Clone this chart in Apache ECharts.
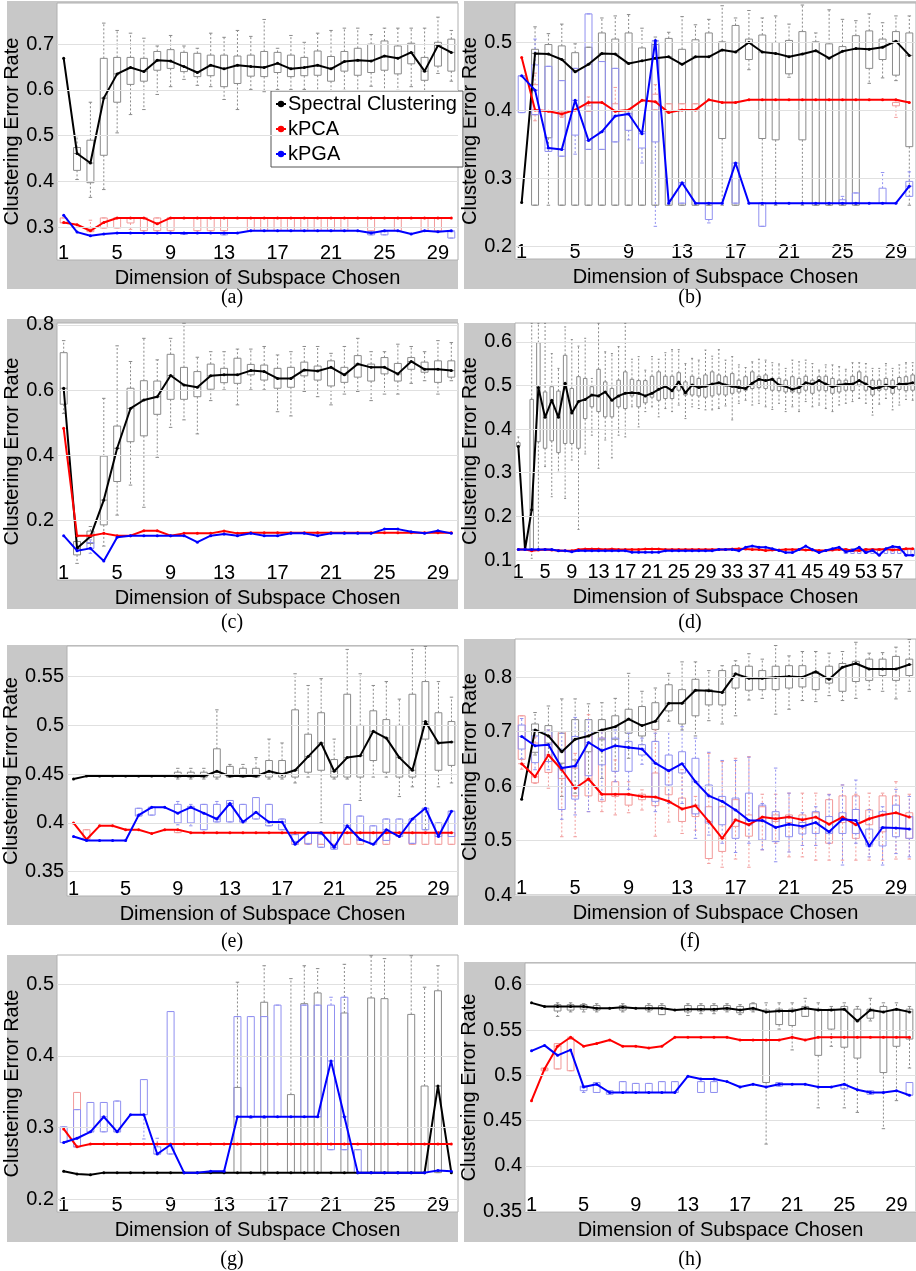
<!DOCTYPE html>
<html><head><meta charset="utf-8">
<script src="https://cdn.jsdelivr.net/npm/echarts@6/dist/echarts.min.js"></script>
<style>html,body{margin:0;padding:0;background:#fff}#c{width:916px;height:1271px}</style>
</head><body><div id="c"></div>
<script>
// ---------------- DATA ----------------
const SERIES_NAMES = ['Spectral Clustering', 'kPCA', 'kPGA'];
const X_TITLE = 'Dimension of Subspace Chosen';
const Y_TITLE = 'Clustering Error Rate';
const CAPTIONS = ['(a)', '(b)', '(c)', '(d)', '(e)', '(f)', '(g)', '(h)'];
const DIMS30 = Array.from({length: 30}, (_, i) => String(i + 1));
const DIMS60 = Array.from({length: 60}, (_, i) => String(i + 1));

// y tick labels
const A_YT = [0.3, 0.4, 0.5, 0.6, 0.7];
const B_YT = [0.2, 0.3, 0.4, 0.5];
const C_YT = [0.2, 0.4, 0.6, 0.8];
const D_YT = [0.1, 0.2, 0.3, 0.4, 0.5, 0.6];
const E_YT = [0.35, 0.4, 0.45, 0.5, 0.55];
const F_YT = [0.4, 0.5, 0.6, 0.7, 0.8];
const G_YT = [0.2, 0.3, 0.4, 0.5];
const H_YT = [0.35, 0.4, 0.45, 0.5, 0.55, 0.6];

// lines (medians); boxes: [dimension, low whisker, q1, q3, high whisker]
// (a)
const A_SC = [0.669,0.461,0.440,0.582,0.635,0.649,0.640,0.665,0.663,0.651,0.638,0.654,0.646,0.654,0.651,0.649,0.658,0.646,0.649,0.654,0.646,0.662,0.665,0.663,0.674,0.669,0.682,0.641,0.697,0.682];
const A_SC_BOX = [[2,0.404,0.424,0.474,0.500],[3,0.365,0.397,0.490,0.573],[4,0.382,0.457,0.669,0.746],[5,0.506,0.573,0.671,0.730],[6,0.546,0.612,0.671,0.724],[7,0.557,0.619,0.669,0.713],[8,0.590,0.643,0.684,0.696],[9,0.607,0.647,0.688,0.719],[10,0.623,0.640,0.682,0.696],[11,0.610,0.629,0.680,0.691],[12,0.607,0.631,0.676,0.724],[13,0.579,0.607,0.676,0.715],[14,0.557,0.614,0.674,0.730],[15,0.601,0.630,0.676,0.717],[16,0.596,0.629,0.684,0.754],[17,0.601,0.638,0.682,0.691],[18,0.601,0.629,0.676,0.719],[19,0.601,0.631,0.671,0.704],[20,0.593,0.632,0.685,0.724],[21,0.596,0.619,0.673,0.730],[22,0.599,0.641,0.684,0.735],[23,0.593,0.632,0.691,0.735],[24,0.608,0.638,0.700,0.721],[25,0.593,0.643,0.707,0.735],[26,0.599,0.635,0.696,0.735],[27,0.607,0.657,0.702,0.735],[28,0.596,0.621,0.671,0.735],[29,0.636,0.652,0.704,0.759],[30,0.619,0.641,0.711,0.730]];
const A_PCA = [0.310,0.305,0.292,0.310,0.320,0.320,0.320,0.307,0.320,0.320,0.320,0.320,0.320,0.320,0.320,0.320,0.320,0.320,0.320,0.320,0.320,0.320,0.320,0.320,0.320,0.320,0.320,0.320,0.320,0.320];
const A_PCA_BOX = [[1,0.309,0.309,0.320,0.320],[3,0.290,0.290,0.298,0.315],[4,0.298,0.298,0.320,0.320],[5,0.298,0.298,0.320,0.320],[6,0.295,0.309,0.320,0.320],[7,0.292,0.292,0.320,0.320],[8,0.292,0.292,0.320,0.320],[9,0.292,0.292,0.320,0.320],[11,0.292,0.292,0.320,0.320],[12,0.292,0.292,0.320,0.320],[13,0.292,0.292,0.320,0.320],[15,0.292,0.292,0.320,0.320],[16,0.292,0.292,0.320,0.320],[17,0.292,0.292,0.320,0.320],[18,0.292,0.292,0.320,0.320],[19,0.292,0.292,0.320,0.320],[20,0.292,0.292,0.320,0.320],[21,0.292,0.292,0.320,0.320],[22,0.292,0.292,0.320,0.320],[24,0.292,0.292,0.320,0.320],[26,0.292,0.292,0.320,0.320],[28,0.292,0.292,0.320,0.320],[29,0.292,0.292,0.320,0.320]];
const A_PGA = [0.326,0.289,0.281,0.285,0.287,0.287,0.287,0.287,0.287,0.287,0.287,0.287,0.287,0.287,0.292,0.292,0.292,0.292,0.292,0.292,0.292,0.292,0.292,0.287,0.292,0.292,0.285,0.292,0.290,0.292];
const A_PGA_BOX = [[10,0.284,0.284,0.287,0.287],[13,0.283,0.283,0.287,0.287],[24,0.283,0.283,0.290,0.290],[25,0.283,0.283,0.290,0.290],[30,0.276,0.276,0.290,0.290]];

// (b)
const B_SC = [0.265,0.484,0.483,0.475,0.457,0.468,0.484,0.483,0.469,0.473,0.477,0.479,0.468,0.479,0.479,0.489,0.486,0.500,0.486,0.484,0.479,0.483,0.488,0.477,0.487,0.491,0.490,0.493,0.502,0.481];
const B_SC_BOX = [[2,0.261,0.261,0.490,0.523],[3,0.261,0.360,0.497,0.513],[4,0.261,0.261,0.495,0.527],[5,0.261,0.261,0.485,0.498],[6,0.261,0.261,0.493,0.493],[7,0.261,0.261,0.514,0.536],[8,0.261,0.261,0.505,0.539],[9,0.261,0.261,0.514,0.541],[10,0.261,0.261,0.492,0.521],[11,0.261,0.261,0.497,0.508],[12,0.261,0.261,0.506,0.515],[13,0.261,0.261,0.490,0.538],[14,0.261,0.261,0.504,0.526],[15,0.261,0.261,0.514,0.534],[16,0.261,0.359,0.501,0.554],[17,0.261,0.261,0.525,0.536],[18,0.460,0.475,0.505,0.547],[19,0.261,0.359,0.511,0.536],[20,0.261,0.357,0.500,0.539],[21,0.449,0.454,0.503,0.527],[22,0.261,0.357,0.516,0.555],[23,0.261,0.261,0.501,0.514],[24,0.261,0.261,0.498,0.548],[25,0.261,0.261,0.494,0.534],[26,0.261,0.261,0.510,0.532],[27,0.440,0.462,0.517,0.542],[28,0.448,0.475,0.505,0.529],[29,0.444,0.452,0.516,0.539],[30,0.261,0.347,0.514,0.539]];
const B_PCA = [0.478,0.401,0.399,0.395,0.401,0.412,0.412,0.399,0.401,0.415,0.413,0.397,0.401,0.401,0.416,0.412,0.412,0.416,0.416,0.416,0.416,0.416,0.416,0.416,0.416,0.416,0.416,0.416,0.416,0.412];
const B_PCA_BOX = [[2,0.385,0.394,0.438,0.455],[4,0.390,0.392,0.398,0.400],[6,0.399,0.399,0.407,0.420],[8,0.399,0.399,0.410,0.434],[11,0.401,0.401,0.424,0.438],[12,0.397,0.397,0.410,0.410],[13,0.401,0.401,0.410,0.410],[14,0.401,0.401,0.410,0.410],[29,0.390,0.407,0.412,0.412]];
const B_PGA = [0.451,0.430,0.345,0.343,0.415,0.356,0.369,0.392,0.395,0.366,0.503,0.264,0.294,0.264,0.264,0.264,0.323,0.264,0.264,0.264,0.264,0.264,0.264,0.264,0.264,0.264,0.264,0.264,0.264,0.289];
const B_PGA_BOX = [[1,0.397,0.397,0.451,0.451],[2,0.394,0.394,0.467,0.505],[3,0.340,0.340,0.465,0.465],[4,0.333,0.333,0.444,0.444],[5,0.336,0.364,0.462,0.462],[6,0.343,0.343,0.542,0.542],[7,0.343,0.343,0.472,0.472],[8,0.354,0.354,0.462,0.462],[9,0.357,0.371,0.396,0.396],[10,0.323,0.345,0.369,0.369],[11,0.230,0.354,0.501,0.501],[13,0.264,0.264,0.294,0.294],[15,0.235,0.240,0.264,0.264],[17,0.264,0.264,0.323,0.323],[19,0.230,0.230,0.264,0.264],[25,0.264,0.264,0.269,0.274],[26,0.264,0.264,0.279,0.279],[28,0.264,0.264,0.286,0.309],[30,0.274,0.274,0.296,0.310]];

// (c)
const C_SC = [0.606,0.115,0.151,0.263,0.422,0.544,0.570,0.580,0.645,0.616,0.609,0.644,0.647,0.647,0.660,0.657,0.636,0.636,0.662,0.659,0.670,0.647,0.680,0.670,0.670,0.650,0.688,0.664,0.664,0.660];
const C_SC_BOX = [[1,0.529,0.557,0.715,0.752],[2,0.069,0.095,0.136,0.151],[3,0.115,0.130,0.168,0.182],[4,0.122,0.187,0.398,0.575],[5,0.217,0.320,0.490,0.736],[6,0.309,0.442,0.606,0.688],[7,0.241,0.460,0.629,0.759],[8,0.394,0.526,0.628,0.693],[9,0.486,0.572,0.710,0.759],[10,0.509,0.572,0.670,0.805],[11,0.466,0.580,0.657,0.701],[12,0.568,0.603,0.680,0.718],[13,0.601,0.623,0.667,0.718],[14,0.555,0.621,0.698,0.726],[15,0.601,0.647,0.679,0.726],[16,0.601,0.631,0.677,0.734],[17,0.534,0.606,0.667,0.708],[18,0.521,0.609,0.670,0.718],[19,0.596,0.644,0.686,0.734],[20,0.580,0.631,0.674,0.734],[21,0.555,0.613,0.690,0.713],[22,0.588,0.624,0.670,0.734],[23,0.596,0.640,0.706,0.759],[24,0.568,0.628,0.680,0.718],[25,0.588,0.650,0.700,0.718],[26,0.588,0.628,0.682,0.741],[27,0.621,0.664,0.700,0.734],[28,0.629,0.655,0.686,0.718],[29,0.588,0.624,0.690,0.752],[30,0.629,0.640,0.690,0.746]];
const C_PCA = [0.483,0.154,0.154,0.161,0.154,0.154,0.169,0.169,0.154,0.161,0.161,0.161,0.168,0.161,0.163,0.163,0.163,0.163,0.163,0.163,0.163,0.163,0.163,0.163,0.163,0.163,0.163,0.163,0.163,0.163];
const C_PCA_BOX = [];
const C_PGA = [0.154,0.108,0.115,0.076,0.149,0.154,0.154,0.154,0.154,0.154,0.134,0.154,0.159,0.154,0.161,0.154,0.154,0.161,0.161,0.154,0.161,0.161,0.161,0.161,0.174,0.174,0.166,0.161,0.169,0.161];
const C_PGA_BOX = [[3,0.100,0.115,0.133,0.141]];

// (d)
const D_SC = [0.360,0.124,0.215,0.495,0.427,0.466,0.427,0.505,0.437,0.463,0.468,0.478,0.476,0.485,0.466,0.476,0.482,0.483,0.482,0.476,0.482,0.491,0.498,0.488,0.508,0.483,0.501,0.495,0.498,0.503,0.506,0.501,0.498,0.495,0.493,0.505,0.514,0.511,0.514,0.501,0.498,0.491,0.495,0.506,0.503,0.511,0.503,0.497,0.501,0.503,0.503,0.511,0.503,0.493,0.495,0.501,0.495,0.503,0.503,0.506];
const D_SC_BOX = [[1,0.361,0.361,0.369,0.382],[3,0.104,0.123,0.468,0.642],[4,0.123,0.371,0.598,0.642],[5,0.314,0.356,0.485,0.642],[6,0.245,0.373,0.497,0.573],[7,0.301,0.346,0.487,0.539],[8,0.241,0.367,0.569,0.634],[9,0.329,0.367,0.493,0.605],[10,0.170,0.356,0.520,0.590],[11,0.343,0.424,0.516,0.608],[12,0.386,0.451,0.497,0.516],[13,0.310,0.440,0.537,0.642],[14,0.375,0.428,0.508,0.577],[15,0.334,0.428,0.493,0.573],[16,0.386,0.451,0.512,0.589],[17,0.382,0.447,0.531,0.642],[18,0.451,0.476,0.514,0.560],[19,0.405,0.451,0.511,0.566],[20,0.440,0.460,0.511,0.535],[21,0.451,0.473,0.521,0.566],[22,0.428,0.466,0.531,0.560],[23,0.447,0.470,0.521,0.575],[24,0.440,0.470,0.521,0.582],[25,0.455,0.489,0.529,0.582],[26,0.424,0.478,0.508,0.550],[27,0.451,0.478,0.521,0.562],[28,0.447,0.476,0.516,0.558],[29,0.444,0.473,0.524,0.581],[30,0.444,0.476,0.531,0.567],[31,0.447,0.480,0.524,0.582],[32,0.453,0.478,0.520,0.558],[33,0.421,0.482,0.527,0.566],[34,0.459,0.485,0.512,0.547],[35,0.466,0.489,0.520,0.541],[36,0.455,0.493,0.531,0.554],[37,0.459,0.495,0.521,0.560],[38,0.451,0.493,0.524,0.558],[39,0.445,0.489,0.516,0.552],[40,0.459,0.488,0.516,0.549],[41,0.440,0.485,0.512,0.539],[42,0.451,0.485,0.520,0.558],[43,0.440,0.483,0.516,0.554],[44,0.463,0.489,0.521,0.558],[45,0.451,0.482,0.512,0.550],[46,0.455,0.489,0.520,0.535],[47,0.447,0.488,0.521,0.547],[48,0.440,0.482,0.516,0.547],[49,0.455,0.485,0.512,0.543],[50,0.459,0.489,0.512,0.537],[51,0.463,0.488,0.521,0.552],[52,0.470,0.501,0.531,0.552],[53,0.459,0.489,0.520,0.550],[54,0.432,0.478,0.512,0.539],[55,0.457,0.489,0.512,0.539],[56,0.470,0.491,0.516,0.550],[57,0.444,0.482,0.512,0.539],[58,0.455,0.491,0.518,0.547],[59,0.468,0.488,0.520,0.552],[60,0.466,0.489,0.524,0.552]];
const D_PCA = [0.124,0.124,0.121,0.123,0.124,0.123,0.122,0.121,0.121,0.124,0.125,0.125,0.125,0.124,0.125,0.124,0.124,0.124,0.124,0.125,0.125,0.125,0.124,0.124,0.124,0.124,0.124,0.124,0.124,0.124,0.124,0.124,0.125,0.126,0.125,0.124,0.124,0.122,0.123,0.123,0.124,0.124,0.124,0.123,0.123,0.122,0.122,0.123,0.124,0.124,0.122,0.122,0.124,0.124,0.124,0.125,0.123,0.124,0.126,0.126];
const D_PCA_BOX = [];
const D_PGA = [0.124,0.124,0.124,0.124,0.124,0.124,0.121,0.121,0.119,0.122,0.121,0.121,0.121,0.121,0.121,0.121,0.121,0.118,0.118,0.118,0.118,0.118,0.121,0.121,0.121,0.121,0.121,0.121,0.121,0.121,0.124,0.124,0.124,0.121,0.129,0.132,0.129,0.129,0.126,0.122,0.117,0.117,0.124,0.132,0.124,0.117,0.122,0.126,0.129,0.119,0.122,0.129,0.117,0.122,0.111,0.126,0.131,0.129,0.111,0.111];
const D_PGA_BOX = [[50,0.115,0.115,0.126,0.126],[51,0.115,0.115,0.126,0.126],[52,0.115,0.115,0.126,0.126],[53,0.115,0.115,0.126,0.126],[54,0.115,0.115,0.126,0.126],[55,0.113,0.113,0.126,0.126],[56,0.115,0.115,0.126,0.126],[57,0.115,0.115,0.128,0.128],[58,0.115,0.115,0.128,0.128],[59,0.111,0.111,0.126,0.126],[60,0.111,0.111,0.126,0.126]];

// (e)
const E_SC = [0.445,0.448,0.448,0.448,0.448,0.448,0.448,0.448,0.448,0.448,0.448,0.453,0.448,0.448,0.448,0.453,0.450,0.454,0.468,0.482,0.453,0.467,0.469,0.494,0.487,0.467,0.454,0.504,0.482,0.483];
const E_SC_BOX = [[9,0.445,0.447,0.452,0.456],[10,0.445,0.447,0.452,0.456],[11,0.445,0.447,0.452,0.456],[12,0.445,0.447,0.476,0.516],[13,0.447,0.447,0.458,0.460],[14,0.447,0.447,0.456,0.460],[15,0.447,0.447,0.456,0.467],[16,0.445,0.447,0.464,0.486],[17,0.445,0.447,0.464,0.482],[18,0.441,0.447,0.516,0.553],[19,0.447,0.452,0.491,0.541],[20,0.400,0.454,0.513,0.548],[21,0.445,0.447,0.465,0.486],[22,0.445,0.447,0.532,0.578],[23,0.423,0.447,0.500,0.553],[24,0.447,0.464,0.515,0.541],[25,0.447,0.452,0.506,0.545],[26,0.427,0.447,0.500,0.527],[27,0.437,0.447,0.532,0.578],[28,0.393,0.486,0.545,0.581],[29,0.437,0.454,0.513,0.545],[30,0.441,0.459,0.504,0.529]];
const E_PCA = [0.400,0.383,0.397,0.397,0.393,0.393,0.389,0.393,0.393,0.390,0.390,0.390,0.390,0.390,0.390,0.390,0.390,0.390,0.390,0.390,0.390,0.390,0.390,0.390,0.390,0.390,0.390,0.390,0.390,0.390];
const E_PCA_BOX = [[2,0.383,0.383,0.393,0.393],[9,0.390,0.390,0.393,0.393],[18,0.378,0.378,0.390,0.390],[19,0.378,0.378,0.390,0.390],[20,0.378,0.378,0.390,0.390],[21,0.378,0.378,0.390,0.390],[22,0.378,0.378,0.390,0.390],[23,0.378,0.378,0.390,0.390],[24,0.378,0.378,0.390,0.390],[25,0.378,0.378,0.390,0.390],[27,0.378,0.378,0.390,0.390],[28,0.378,0.378,0.390,0.390],[29,0.378,0.378,0.390,0.390],[30,0.378,0.378,0.390,0.390]];
const E_PGA = [0.386,0.382,0.382,0.382,0.382,0.408,0.416,0.416,0.410,0.416,0.410,0.404,0.420,0.401,0.411,0.401,0.401,0.378,0.390,0.390,0.375,0.397,0.383,0.378,0.393,0.386,0.404,0.415,0.386,0.412];
const E_PGA_BOX = [[6,0.407,0.407,0.415,0.415],[7,0.408,0.408,0.416,0.416],[9,0.398,0.400,0.419,0.422],[10,0.397,0.400,0.417,0.419],[11,0.393,0.393,0.419,0.419],[12,0.401,0.401,0.419,0.422],[13,0.401,0.401,0.423,0.423],[14,0.401,0.401,0.419,0.419],[15,0.404,0.404,0.426,0.426],[16,0.397,0.397,0.419,0.419],[17,0.393,0.393,0.404,0.404],[18,0.378,0.381,0.388,0.388],[19,0.378,0.379,0.390,0.390],[20,0.375,0.375,0.388,0.388],[21,0.373,0.373,0.390,0.390],[22,0.390,0.390,0.419,0.419],[23,0.382,0.382,0.407,0.407],[24,0.379,0.379,0.397,0.397],[25,0.382,0.382,0.404,0.404],[26,0.386,0.386,0.404,0.404],[27,0.379,0.379,0.404,0.404],[28,0.393,0.393,0.415,0.415],[29,0.386,0.386,0.400,0.400],[30,0.386,0.386,0.412,0.412]];

// (f)
const F_SC = [0.576,0.703,0.692,0.663,0.686,0.692,0.703,0.709,0.723,0.711,0.719,0.752,0.752,0.776,0.775,0.772,0.806,0.798,0.798,0.800,0.801,0.800,0.810,0.796,0.818,0.825,0.815,0.815,0.815,0.823];
const F_SC_BOX = [[2,0.657,0.662,0.714,0.735],[3,0.645,0.679,0.711,0.747],[4,0.581,0.642,0.697,0.760],[5,0.587,0.648,0.722,0.760],[6,0.614,0.663,0.722,0.751],[7,0.614,0.685,0.722,0.753],[8,0.627,0.686,0.729,0.761],[9,0.651,0.697,0.741,0.807],[10,0.676,0.692,0.746,0.774],[11,0.682,0.704,0.753,0.780],[12,0.719,0.738,0.786,0.807],[13,0.703,0.714,0.777,0.828],[14,0.692,0.729,0.796,0.828],[15,0.720,0.749,0.777,0.812],[16,0.714,0.749,0.812,0.821],[17,0.729,0.780,0.821,0.830],[18,0.758,0.776,0.820,0.843],[19,0.761,0.777,0.812,0.833],[20,0.732,0.777,0.820,0.858],[21,0.741,0.780,0.821,0.839],[22,0.757,0.782,0.821,0.847],[23,0.755,0.777,0.807,0.847],[24,0.766,0.789,0.820,0.844],[25,0.757,0.774,0.825,0.847],[26,0.761,0.792,0.829,0.864],[27,0.777,0.794,0.833,0.844],[28,0.774,0.803,0.833,0.845],[29,0.760,0.794,0.838,0.855],[30,0.774,0.803,0.833,0.869]];
const F_PCA = [0.641,0.617,0.657,0.630,0.596,0.613,0.585,0.585,0.585,0.581,0.580,0.572,0.558,0.564,0.535,0.504,0.538,0.529,0.543,0.540,0.543,0.538,0.543,0.530,0.543,0.529,0.540,0.547,0.551,0.543];
const F_PCA_BOX = [[1,0.631,0.649,0.729,0.729],[2,0.605,0.606,0.679,0.690],[3,0.596,0.625,0.692,0.703],[4,0.507,0.614,0.700,0.700],[5,0.507,0.582,0.633,0.660],[6,0.553,0.582,0.692,0.731],[7,0.553,0.572,0.688,0.703],[8,0.547,0.581,0.608,0.648],[9,0.551,0.565,0.584,0.608],[10,0.556,0.575,0.585,0.593],[11,0.508,0.564,0.624,0.703],[12,0.534,0.584,0.599,0.630],[13,0.513,0.535,0.578,0.630],[14,0.519,0.544,0.565,0.581],[15,0.458,0.467,0.562,0.660],[16,0.451,0.480,0.562,0.645],[17,0.466,0.526,0.575,0.651],[18,0.451,0.508,0.547,0.654],[19,0.483,0.535,0.562,0.585],[20,0.495,0.535,0.547,0.585],[21,0.470,0.533,0.547,0.587],[22,0.470,0.523,0.547,0.587],[23,0.464,0.532,0.551,0.587],[24,0.464,0.495,0.575,0.585],[25,0.464,0.533,0.582,0.602],[26,0.464,0.504,0.582,0.585],[27,0.464,0.529,0.556,0.587],[28,0.464,0.516,0.582,0.587],[29,0.466,0.523,0.582,0.608],[30,0.466,0.504,0.551,0.585]];
const F_PGA = [0.691,0.674,0.676,0.633,0.637,0.680,0.665,0.674,0.671,0.668,0.642,0.628,0.641,0.608,0.582,0.572,0.556,0.537,0.537,0.524,0.530,0.526,0.533,0.516,0.539,0.537,0.490,0.524,0.523,0.521];
const F_PGA_BOX = [[1,0.650,0.668,0.712,0.724],[2,0.630,0.643,0.692,0.703],[3,0.630,0.645,0.700,0.703],[4,0.539,0.557,0.666,0.697],[5,0.547,0.576,0.691,0.726],[6,0.553,0.619,0.700,0.722],[7,0.575,0.639,0.688,0.700],[8,0.608,0.627,0.688,0.703],[9,0.594,0.627,0.682,0.697],[10,0.640,0.657,0.676,0.688],[11,0.553,0.572,0.682,0.697],[12,0.568,0.602,0.657,0.700],[13,0.568,0.624,0.663,0.709],[14,0.504,0.549,0.651,0.688],[15,0.510,0.532,0.602,0.662],[16,0.495,0.529,0.581,0.647],[17,0.478,0.504,0.578,0.647],[18,0.495,0.529,0.587,0.653],[19,0.483,0.501,0.565,0.568],[20,0.461,0.498,0.553,0.633],[21,0.479,0.507,0.544,0.587],[22,0.491,0.512,0.533,0.551],[23,0.491,0.513,0.553,0.562],[24,0.495,0.513,0.544,0.584],[25,0.455,0.513,0.551,0.602],[26,0.495,0.513,0.557,0.611],[27,0.470,0.492,0.521,0.557],[28,0.455,0.490,0.553,0.562],[29,0.476,0.507,0.565,0.594],[30,0.470,0.504,0.544,0.581]];

// (g)
const G_SC = [0.239,0.235,0.234,0.237,0.237,0.237,0.237,0.237,0.237,0.237,0.237,0.237,0.237,0.237,0.237,0.237,0.237,0.237,0.237,0.237,0.237,0.237,0.237,0.237,0.237,0.237,0.237,0.237,0.358,0.237];
const G_SC_BOX = [[14,0.237,0.237,0.356,0.503],[16,0.234,0.237,0.475,0.526],[18,0.237,0.237,0.346,0.508],[19,0.237,0.237,0.473,0.526],[20,0.237,0.237,0.488,0.522],[22,0.237,0.237,0.460,0.528],[24,0.237,0.237,0.481,0.540],[25,0.237,0.237,0.480,0.536],[27,0.237,0.237,0.458,0.540],[28,0.237,0.237,0.358,0.496],[29,0.237,0.237,0.491,0.526]];
const G_PCA = [0.298,0.273,0.277,0.277,0.277,0.277,0.277,0.277,0.277,0.277,0.277,0.277,0.277,0.277,0.277,0.277,0.277,0.277,0.277,0.277,0.277,0.277,0.277,0.277,0.277,0.277,0.277,0.277,0.277,0.277];
const G_PCA_BOX = [[2,0.273,0.273,0.349,0.349]];
const G_PGA = [0.279,0.285,0.294,0.315,0.294,0.318,0.318,0.263,0.276,0.237,0.237,0.239,0.239,0.315,0.315,0.315,0.315,0.315,0.315,0.315,0.393,0.315,0.237,0.237,0.237,0.237,0.237,0.237,0.240,0.239];
const G_PGA_BOX = [[1,0.279,0.279,0.301,0.301],[2,0.273,0.273,0.325,0.325],[3,0.294,0.294,0.335,0.335],[4,0.294,0.294,0.335,0.335],[5,0.294,0.294,0.337,0.337],[7,0.284,0.318,0.367,0.367],[8,0.263,0.263,0.273,0.285],[9,0.263,0.263,0.462,0.462],[14,0.315,0.315,0.455,0.455],[15,0.313,0.315,0.455,0.455],[16,0.313,0.315,0.455,0.455],[17,0.315,0.315,0.471,0.471],[19,0.315,0.315,0.471,0.471],[20,0.315,0.315,0.471,0.471],[21,0.269,0.269,0.471,0.482],[22,0.269,0.269,0.482,0.482],[23,0.237,0.237,0.269,0.269]];

// (h)
const H_SC = [0.580,0.576,0.576,0.576,0.576,0.574,0.574,0.575,0.574,0.574,0.574,0.572,0.573,0.573,0.573,0.574,0.572,0.574,0.570,0.571,0.571,0.574,0.572,0.572,0.573,0.560,0.572,0.570,0.573,0.570];
const H_SC_BOX = [[3,0.565,0.571,0.578,0.580],[4,0.570,0.572,0.578,0.580],[5,0.570,0.573,0.578,0.579],[6,0.570,0.572,0.577,0.579],[8,0.570,0.572,0.577,0.579],[10,0.570,0.572,0.577,0.579],[11,0.567,0.567,0.577,0.579],[13,0.566,0.570,0.577,0.579],[14,0.568,0.571,0.577,0.579],[15,0.568,0.571,0.577,0.579],[16,0.570,0.572,0.577,0.579],[17,0.567,0.569,0.576,0.578],[18,0.570,0.572,0.579,0.580],[19,0.424,0.492,0.572,0.580],[20,0.551,0.556,0.573,0.580],[21,0.528,0.555,0.573,0.580],[22,0.565,0.565,0.576,0.585],[23,0.464,0.522,0.573,0.580],[24,0.532,0.551,0.573,0.576],[25,0.464,0.531,0.576,0.580],[26,0.459,0.519,0.573,0.576],[27,0.560,0.563,0.573,0.585],[28,0.441,0.503,0.576,0.580],[29,0.472,0.532,0.572,0.580],[30,0.508,0.540,0.573,0.576]];
const H_PCA = [0.472,0.507,0.532,0.542,0.532,0.535,0.539,0.532,0.532,0.530,0.532,0.542,0.542,0.542,0.542,0.542,0.539,0.539,0.539,0.539,0.542,0.539,0.542,0.542,0.542,0.542,0.542,0.542,0.542,0.542];
const H_PCA_BOX = [[2,0.505,0.505,0.508,0.508],[3,0.507,0.507,0.535,0.535],[4,0.505,0.505,0.540,0.540]];
const H_PGA = [0.527,0.533,0.522,0.528,0.487,0.490,0.481,0.481,0.481,0.481,0.481,0.481,0.499,0.496,0.496,0.493,0.487,0.490,0.487,0.490,0.490,0.490,0.487,0.487,0.490,0.484,0.481,0.481,0.483,0.478];
const H_PGA_BOX = [[5,0.481,0.483,0.488,0.488],[6,0.481,0.481,0.492,0.492],[7,0.479,0.479,0.483,0.483],[8,0.481,0.481,0.493,0.493],[9,0.481,0.481,0.491,0.491],[10,0.481,0.481,0.491,0.491],[11,0.481,0.481,0.493,0.493],[12,0.481,0.481,0.493,0.493],[14,0.481,0.481,0.493,0.493],[15,0.481,0.481,0.493,0.493],[20,0.488,0.488,0.492,0.492],[25,0.485,0.485,0.490,0.490],[27,0.479,0.479,0.483,0.483],[30,0.478,0.478,0.492,0.492]];

// ---------------- LAYOUT (positions / styles only) ----------------
const PANELS = [
  {cats: DIMS30, yt: A_YT, sc: A_SC, scBox: A_SC_BOX, pca: A_PCA, pcaBox: A_PCA_BOX, pga: A_PGA, pgaBox: A_PGA_BOX},
  {cats: DIMS30, yt: B_YT, sc: B_SC, scBox: B_SC_BOX, pca: B_PCA, pcaBox: B_PCA_BOX, pga: B_PGA, pgaBox: B_PGA_BOX},
  {cats: DIMS30, yt: C_YT, sc: C_SC, scBox: C_SC_BOX, pca: C_PCA, pcaBox: C_PCA_BOX, pga: C_PGA, pgaBox: C_PGA_BOX},
  {cats: DIMS60, yt: D_YT, sc: D_SC, scBox: D_SC_BOX, pca: D_PCA, pcaBox: D_PCA_BOX, pga: D_PGA, pgaBox: D_PGA_BOX},
  {cats: DIMS30, yt: E_YT, sc: E_SC, scBox: E_SC_BOX, pca: E_PCA, pcaBox: E_PCA_BOX, pga: E_PGA, pgaBox: E_PGA_BOX},
  {cats: DIMS30, yt: F_YT, sc: F_SC, scBox: F_SC_BOX, pca: F_PCA, pcaBox: F_PCA_BOX, pga: F_PGA, pgaBox: F_PGA_BOX},
  {cats: DIMS30, yt: G_YT, sc: G_SC, scBox: G_SC_BOX, pca: G_PCA, pcaBox: G_PCA_BOX, pga: G_PGA, pgaBox: G_PGA_BOX},
  {cats: DIMS30, yt: H_YT, sc: H_SC, scBox: H_SC_BOX, pca: H_PCA, pcaBox: H_PCA_BOX, pga: H_PGA, pgaBox: H_PGA_BOX}
];
const LAYOUT = [
  {left: 57,  top: 3,   width: 401, height: 257, ymin: 0.228, ymax: 0.790, gray: [7, 1, 451, 288],   cap: [232, 298], nameGap: 32},
  {left: 515, top: 3,   width: 401, height: 256, ymin: 0.182, ymax: 0.558, gray: [464, 1, 452, 288], cap: [690, 298], nameGap: 32},
  {left: 57,  top: 323, width: 401, height: 257, ymin: 0.018, ymax: 0.806, gray: [7, 319, 451, 290], cap: [232, 623], nameGap: 32},
  {left: 515, top: 323, width: 401, height: 256, ymin: 0.0565, ymax: 0.643, gray: [464, 323, 452, 286], cap: [690, 623], nameGap: 32},
  {left: 67,  top: 646, width: 391, height: 250, ymin: 0.325, ymax: 0.5815, gray: [7, 645, 451, 280], cap: [232, 942], nameGap: 42},
  {left: 515, top: 639, width: 401, height: 256, ymin: 0.4,   ymax: 0.870, gray: [464, 639, 452, 286], cap: [690, 942], nameGap: 32},
  {left: 57,  top: 955, width: 401, height: 257, ymin: 0.182, ymax: 0.541, gray: [7, 955, 451, 287], cap: [232, 1260], nameGap: 32},
  {left: 525, top: 963, width: 391, height: 249, ymin: 0.349, ymax: 0.624, gray: [464, 962, 452, 280], cap: [690, 1260], nameGap: 42}
];
const FONT = "'Liberation Sans', Arial, Helvetica, sans-serif";
const SERIF = "'Liberation Serif', 'Times New Roman', serif";
const GRAY_BG = '#c8c8c8';
const LINE_COLORS = ['#000000', '#ff0000', '#0000ff'];
const BOX_COLORS = ['#8a8a8a', '#f29a9a', '#9090f0'];
const TICK_FS = 20;

function makeRender(color) {
  return function (params, api) {
    const i = api.value(0);
    const lo = api.coord([i, api.value(1)]);
    const q1 = api.coord([i, api.value(2)]);
    const md = api.coord([i, api.value(3)]);
    const q3 = api.coord([i, api.value(4)]);
    const hi = api.coord([i, api.value(5)]);
    const band = api.size([1, 0])[0];
    const bw = Math.max(3, band * 0.52), cw = Math.max(2, band * 0.26);
    const x = q1[0];
    const solid = {stroke: color, lineWidth: 1, fill: null};
    const dash = {stroke: color, lineWidth: 1, lineDash: [2, 2], fill: null};
    return {
      type: 'group',
      children: [
        {type: 'line', shape: {x1: x, y1: q3[1], x2: x, y2: hi[1]}, style: dash},
        {type: 'line', shape: {x1: x, y1: q1[1], x2: x, y2: lo[1]}, style: dash},
        {type: 'line', shape: {x1: x - cw / 2, y1: hi[1], x2: x + cw / 2, y2: hi[1]}, style: solid},
        {type: 'line', shape: {x1: x - cw / 2, y1: lo[1], x2: x + cw / 2, y2: lo[1]}, style: solid},
        {type: 'rect', shape: {x: x - bw / 2, y: q3[1], width: bw, height: q1[1] - q3[1]}, style: {stroke: color, lineWidth: 1, fill: null}},
        {type: 'line', shape: {x1: x - bw / 2, y1: md[1], x2: x + bw / 2, y2: md[1]}, style: solid}
      ]
    };
  };
}
function boxData(boxes, med) {
  return boxes.map(b => [b[0] - 1, b[1], b[2], med[b[0] - 1], b[3], b[4]]);
}

const grids = [], xAxes = [], yAxes = [], series = [], graphics = [];
PANELS.forEach((p, k) => {
  const L = LAYOUT[k];
  graphics.push({type: 'rect', z: -10, shape: {x: L.gray[0], y: L.gray[1], width: L.gray[2], height: L.gray[3]}, style: {fill: GRAY_BG}});
  graphics.push({type: 'text', z: 10, x: L.cap[0], y: L.cap[1], style: {text: CAPTIONS[k], font: '20px ' + SERIF, fill: '#000', textAlign: 'center', textVerticalAlign: 'middle'}});
  grids.push({left: L.left, top: L.top, width: L.width, height: L.height, show: true, backgroundColor: '#fff', borderColor: '#b0b0b0', borderWidth: 1});
  xAxes.push({
    type: 'category', gridIndex: k, data: p.cats, boundaryGap: true,
    axisLine: {show: false}, axisTick: {show: false}, splitLine: {show: false},
    axisLabel: {inside: true, interval: 3, margin: -3, fontSize: TICK_FS, color: '#000', fontFamily: FONT},
    name: X_TITLE, nameLocation: 'middle', nameGap: 8,
    nameTextStyle: {fontSize: 20, color: '#000', fontFamily: FONT}
  });
  yAxes.push({
    type: 'value', gridIndex: k, min: L.ymin, max: L.ymax,
    axisLine: {show: false}, axisTick: {show: false}, splitLine: {show: false},
    axisLabel: {customValues: p.yt, margin: 3, fontSize: TICK_FS, color: '#000', fontFamily: FONT, formatter: v => String(+v.toFixed(2))},
    name: Y_TITLE, nameLocation: 'middle', nameGap: L.nameGap,
    nameTextStyle: {fontSize: 20, color: '#000', fontFamily: FONT}
  });
  const lines = [p.sc, p.pca, p.pga];
  const boxes = [p.scBox, p.pcaBox, p.pgaBox];
  boxes.forEach((bx, j) => {
    const s = {
      type: 'custom', name: 'box-' + k + '-' + j, xAxisIndex: k, yAxisIndex: k,
      renderItem: makeRender(BOX_COLORS[j]), data: boxData(bx, lines[j]),
      encode: {x: 0, y: [1, 2, 3, 4, 5]}, z: 1, silent: true, animation: false
    };
    if (j === 0) {
      s.markLine = {
        silent: true, symbol: ['none', 'none'], label: {show: false}, animation: false,
        lineStyle: {color: '#e0e0e0', type: 'solid', width: 1},
        data: p.yt.map(v => ({yAxis: v}))
      };
    }
    series.push(s);
  });
  lines.forEach((d, j) => {
    series.push({
      type: 'line', name: SERIES_NAMES[j], xAxisIndex: k, yAxisIndex: k, data: d,
      symbol: 'circle', symbolSize: 3, showSymbol: true,
      lineStyle: {color: LINE_COLORS[j], width: 2}, itemStyle: {color: LINE_COLORS[j]},
      z: 3 + j, animation: false, silent: true
    });
  });
});

const chart = echarts.init(document.getElementById('c'), null, {renderer: 'canvas'});
chart.setOption({
  animation: false,
  backgroundColor: '#fff',
  grid: grids, xAxis: xAxes, yAxis: yAxes, series: series,
  graphic: {elements: graphics},
  legend: {
    data: SERIES_NAMES, orient: 'vertical', left: 271, top: 91, selectedMode: false,
    backgroundColor: '#fff', borderColor: '#555', borderWidth: 1,
    padding: [3, 6, 3, 4], itemGap: 5, itemWidth: 10, itemHeight: 8,
    textStyle: {fontSize: 20, color: '#000', fontFamily: FONT, padding: [0, 0, 0, -3]}
  }
});
</script></body></html>
